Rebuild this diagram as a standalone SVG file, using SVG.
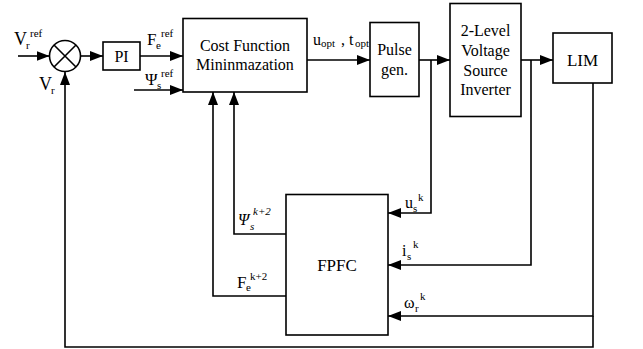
<svg xmlns="http://www.w3.org/2000/svg" width="643" height="349" viewBox="0 0 643 349">
<style>
.box{fill:#fff;stroke:#000;stroke-width:1.6}
.ln{fill:none;stroke:#000;stroke-width:1.6}
.ar{marker-end:url(#ah)}
.t{font-size:16px}
.c{text-anchor:middle}
.s{font-size:11px}
.i{font-style:italic}
</style>
<defs>
<marker id="ah" markerUnits="userSpaceOnUse" markerWidth="14" markerHeight="12" refX="13" refY="5" orient="auto">
<path d="M0,0 L13,5 L0,10 Z" fill="#000"/>
</marker>
</defs>
<rect width="643" height="349" fill="#fff"/>
<g id="connectors">
<path class="ln ar" d="M18,56 H49.5"/>
<path class="ln ar" d="M80.5,56 H103"/>
<path class="ln ar" d="M140,56 H183"/>
<path class="ln ar" d="M134,90 H183"/>
<path class="ln ar" d="M307,60 H370"/>
<path class="ln ar" d="M419,60 H450"/>
<path class="ln ar" d="M521,60 H553"/>
<path class="ln ar" d="M431,60 V213 H388"/>
<path class="ln ar" d="M531,60 V265 H388"/>
<path class="ln ar" d="M593,83 V316 H388"/>
<path class="ln ar" d="M593,316 V347 H65 V72"/>
<path class="ln ar" d="M286,234 H234 V92"/>
<path class="ln ar" d="M286,296 H213 V92"/>
</g>
<g font-family="'Liberation Serif', 'Times New Roman', 'DejaVu Serif', serif" fill="#000">
<g id="sum">
<circle cx="65" cy="56" r="15.5" class="box"/>
<path class="ln" d="M54,45 L76,67 M76,45 L54,67"/>
</g>
<g id="pi">
<rect x="103" y="42" width="37" height="28" class="box"/>
<text class="t c" x="121.5" y="62">PI</text>
</g>
<g id="cost">
<rect x="183" y="18.5" width="124" height="73.5" class="box"/>
<text class="t c" x="245" y="51">Cost Function</text>
<text class="t c" x="245" y="70">Mininmazation</text>
</g>
<g id="pulse">
<rect x="370" y="22.5" width="49" height="74" class="box"/>
<text class="t c" x="394.5" y="55">Pulse</text>
<text class="t c" x="394.5" y="75">gen.</text>
</g>
<g id="inverter">
<rect x="450" y="3.5" width="71" height="113" class="box"/>
<text class="t c" x="485.5" y="36">2-Level</text>
<text class="t c" x="485.5" y="56">Voltage</text>
<text class="t c" x="485.5" y="76">Source</text>
<text class="t c" x="485.5" y="95">Inverter</text>
</g>
<g id="lim">
<rect x="553" y="33" width="59" height="50" class="box"/>
<text class="t c" x="582.5" y="66" style="font-size:17px">LIM</text>
</g>
<g id="fpfc">
<rect x="286" y="194.5" width="102" height="140.5" class="box"/>
<text class="t c" x="337" y="271" style="font-size:17px">FPFC</text>
</g>
<g id="labels">
<text class="t" x="14" y="45" style="font-size:18px">V</text><text class="s" x="26" y="49">r</text><text class="s" x="30" y="37">ref</text>
<text class="t" x="39" y="90" style="font-size:18px">V</text><text class="s" x="51" y="94">r</text>
<text class="t" x="147" y="45" style="font-size:17px">F</text><text class="s" x="156" y="49">e</text><text class="s" x="161" y="37">ref</text>
<text class="t" x="145" y="85" style="font-size:17px">Ψ</text><text class="s" x="157" y="89">s</text><text class="s" x="161" y="77">ref</text>
<text class="t" x="313" y="45">u</text><text class="s" x="321" y="47">opt</text><text class="t" x="341" y="45">,</text><text class="t" x="349" y="45">t</text><text class="s" x="355" y="47">opt</text>
<text class="t i" x="238" y="225">Ψ</text><text class="s i" x="250" y="230">s</text><text class="s i" x="253" y="215">k+2</text>
<text class="t" x="237" y="288" style="font-size:17px">F</text><text class="s" x="246" y="291">e</text><text class="s" x="250" y="280">k+2</text>
<text class="t" x="405" y="208">u</text><text class="s" x="413" y="212">s</text><text class="s" x="418" y="201">k</text>
<text class="t" x="402" y="256">i</text><text class="s" x="407" y="260">s</text><text class="s" x="413" y="248">k</text>
<text class="t" x="404" y="308">ω</text><text class="s" x="415" y="312">r</text><text class="s" x="420" y="300">k</text>
</g>
</g>
</svg>
